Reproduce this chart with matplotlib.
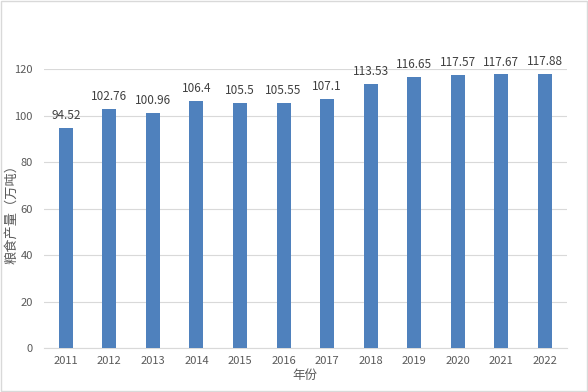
import matplotlib
matplotlib.use("Agg")
import matplotlib.pyplot as plt
from matplotlib.patches import Rectangle

plt.rcParams['font.family'] = ['Noto Sans CJK SC', 'DejaVu Sans']

years = ['2011', '2012', '2013', '2014', '2015', '2016', '2017', '2018', '2019', '2020', '2021', '2022']
values = [94.52, 102.76, 100.96, 106.4, 105.5, 105.55, 107.1, 113.53, 116.65, 117.57, 117.67, 117.88]
labels = ['94.52', '102.76', '100.96', '106.4', '105.5', '105.55', '107.1', '113.53', '116.65', '117.57', '117.67', '117.88']

fig = plt.figure(figsize=(5.88, 3.92), dpi=100)
ax = fig.add_axes([0.0748, 0.112, 0.889, 0.712])
x = range(len(years))
bars = ax.bar(x, values, width=0.32, color='#4F81BD', zorder=3)
for xi, v, lab in zip(x, values, labels):
    ax.text(xi, v + 2.5, lab, ha='center', va='bottom', fontsize=8.5, color='#404040')
ax.set_xlim(-0.5, len(years) - 0.5)
ax.set_ylim(0, 120)
ax.set_yticks(range(0, 121, 20))
ax.set_xticks(list(x))
ax.set_xticklabels(years)
ax.grid(axis='y', color='#D9D9D9', linewidth=0.8, zorder=0)
for s in ['top', 'right', 'left']:
    ax.spines[s].set_visible(False)
ax.spines['bottom'].set_color('#D9D9D9')
ax.tick_params(axis='both', length=0, labelsize=8, colors='#595959')
ax.tick_params(axis='y', pad=8)
ax.tick_params(axis='x', pad=6)
ax.set_xlabel('年份', fontsize=9, color='#595959', labelpad=2)
ax.set_ylabel('粮食产量（万吨）', fontsize=9.5, color='#595959')
ax.yaxis.set_label_coords(-0.049, 0.49)
fig.patches.append(Rectangle((0.002, 0.002), 0.996, 0.996, transform=fig.transFigure,
                             fill=False, edgecolor='#D9D9D9', linewidth=1))
fig.savefig('out.png', dpi=100)
